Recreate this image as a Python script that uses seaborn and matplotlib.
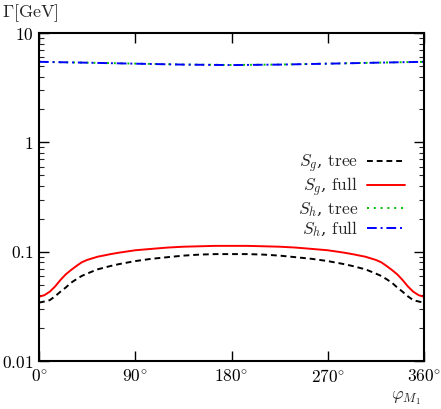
import numpy as np
import pandas as pd
import matplotlib
matplotlib.use("Agg")
import matplotlib.pyplot as plt
import seaborn as sns
from matplotlib.ticker import FixedLocator, LogLocator, NullFormatter

sns.set_theme(style="white")
plt.rcParams['mathtext.fontset'] = 'cm'
plt.rcParams['font.family'] = ['DejaVu Serif']

# data (angles in degrees)
phi_g = [0, 5, 10, 15, 20, 25, 30, 35, 40, 45, 50, 55, 60, 67, 75, 90, 105, 120, 135, 150, 165, 180,
         195, 210, 225, 240, 255, 270, 285, 293, 300, 305, 310, 315, 320, 325, 330, 335, 340, 345,
         350, 355, 360]
sg_full = [0.0387, 0.040, 0.043, 0.048, 0.055, 0.062, 0.068, 0.074, 0.080, 0.084, 0.087, 0.090,
           0.092, 0.095, 0.098, 0.103, 0.106, 0.109, 0.111, 0.112, 0.113, 0.113,
           0.113, 0.112, 0.111, 0.109, 0.106, 0.103, 0.098, 0.095, 0.092, 0.090, 0.087, 0.084,
           0.080, 0.074, 0.068, 0.062, 0.055, 0.048, 0.043, 0.040, 0.0387]
sg_tree = [0.0342, 0.035, 0.036, 0.039, 0.043, 0.047, 0.052, 0.056, 0.060, 0.063, 0.066, 0.069,
           0.071, 0.074, 0.077, 0.082, 0.086, 0.089, 0.092, 0.094, 0.095, 0.095,
           0.095, 0.094, 0.092, 0.089, 0.086, 0.082, 0.077, 0.074, 0.071, 0.069, 0.066, 0.063,
           0.060, 0.056, 0.052, 0.047, 0.043, 0.039, 0.036, 0.035, 0.0342]
phi_h = [0, 45, 90, 135, 180, 225, 270, 315, 360]
sh_tree = [5.45, 5.35, 5.25, 5.15, 5.10, 5.15, 5.25, 5.35, 5.45]
sh_full = [5.45, 5.35, 5.24, 5.14, 5.09, 5.14, 5.24, 5.35, 5.45]

xticks = [0, 90, 180, 270, 360]
xticklabels = [r'$0^{\circ}$', r'$90^{\circ}$', r'$180^{\circ}$', r'$270^{\circ}$', r'$360^{\circ}$']
yticks = [0.01, 0.1, 1, 10]
yticklabels = [r'$0.01$', r'$0.1$', r'$1$', r'$10$']

fig = plt.figure(figsize=(4.41, 4.09), dpi=100)
ax = fig.add_axes([39/441, 1-361/409, 385/441, 328/409])

sns.lineplot(x=phi_g, y=sg_tree, ax=ax, color='black', lw=1.4, linestyle=(0, (3, 2)),
             label=r'$S_g$, $\mathrm{tree}$')
sns.lineplot(x=phi_g, y=sg_full, ax=ax, color='#ff0000', lw=1.4, linestyle='-',
             label=r'$S_g$, $\mathrm{full}$')
sns.lineplot(x=phi_h, y=sh_tree, ax=ax, color='#00c000', lw=1.4, linestyle=(0, (1, 2.5)),
             label=r'$S_h$, $\mathrm{tree}$')
sns.lineplot(x=phi_h, y=sh_full, ax=ax, color='#0000ff', lw=1.4, linestyle=(0, (5, 2, 1, 2)),
             label=r'$S_h$, $\mathrm{full}$')

ax.set_yscale('log')
ax.set_xlim(0, 360)
ax.set_ylim(0.01, 10)
ax.set_xticks(xticks)
ax.set_xticklabels(xticklabels, fontsize=12.5)
ax.yaxis.set_major_locator(FixedLocator(yticks))
ax.set_yticklabels(yticklabels, fontsize=12.5)
ax.yaxis.set_minor_locator(LogLocator(base=10, subs=np.arange(2, 10)))
ax.yaxis.set_minor_formatter(NullFormatter())
ax.tick_params(which='major', direction='in', length=7, width=1, top=True, right=True,
               bottom=True, left=True, pad=4, colors='black')
ax.tick_params(axis='x', which='major', pad=6)
ax.tick_params(which='minor', direction='in', length=3.5, width=0.8, left=True, right=True)
ax.tick_params(axis='x', which='minor', bottom=False, top=False)
for s in ax.spines.values():
    s.set_linewidth(1.5)
    s.set_color('black')
ax.grid(False)
ax.set_xlabel('')
ax.set_ylabel('')

fig.text(2/441, 1-13/409, r'$\Gamma[\mathrm{GeV}]$', fontsize=13, va='center', ha='left')
fig.text(406/441, 1-398/409, r'$\varphi_{M_1}$', fontsize=13, va='center', ha='center')

leg = ax.legend(loc='center right', bbox_to_anchor=(1.0, 0.503), frameon=False,
                markerfirst=False, fontsize=12.5, handlelength=2.2, labelspacing=0.05,
                handletextpad=0.5, borderaxespad=0.7)

fig.savefig('out.png', dpi=100, facecolor='white')
